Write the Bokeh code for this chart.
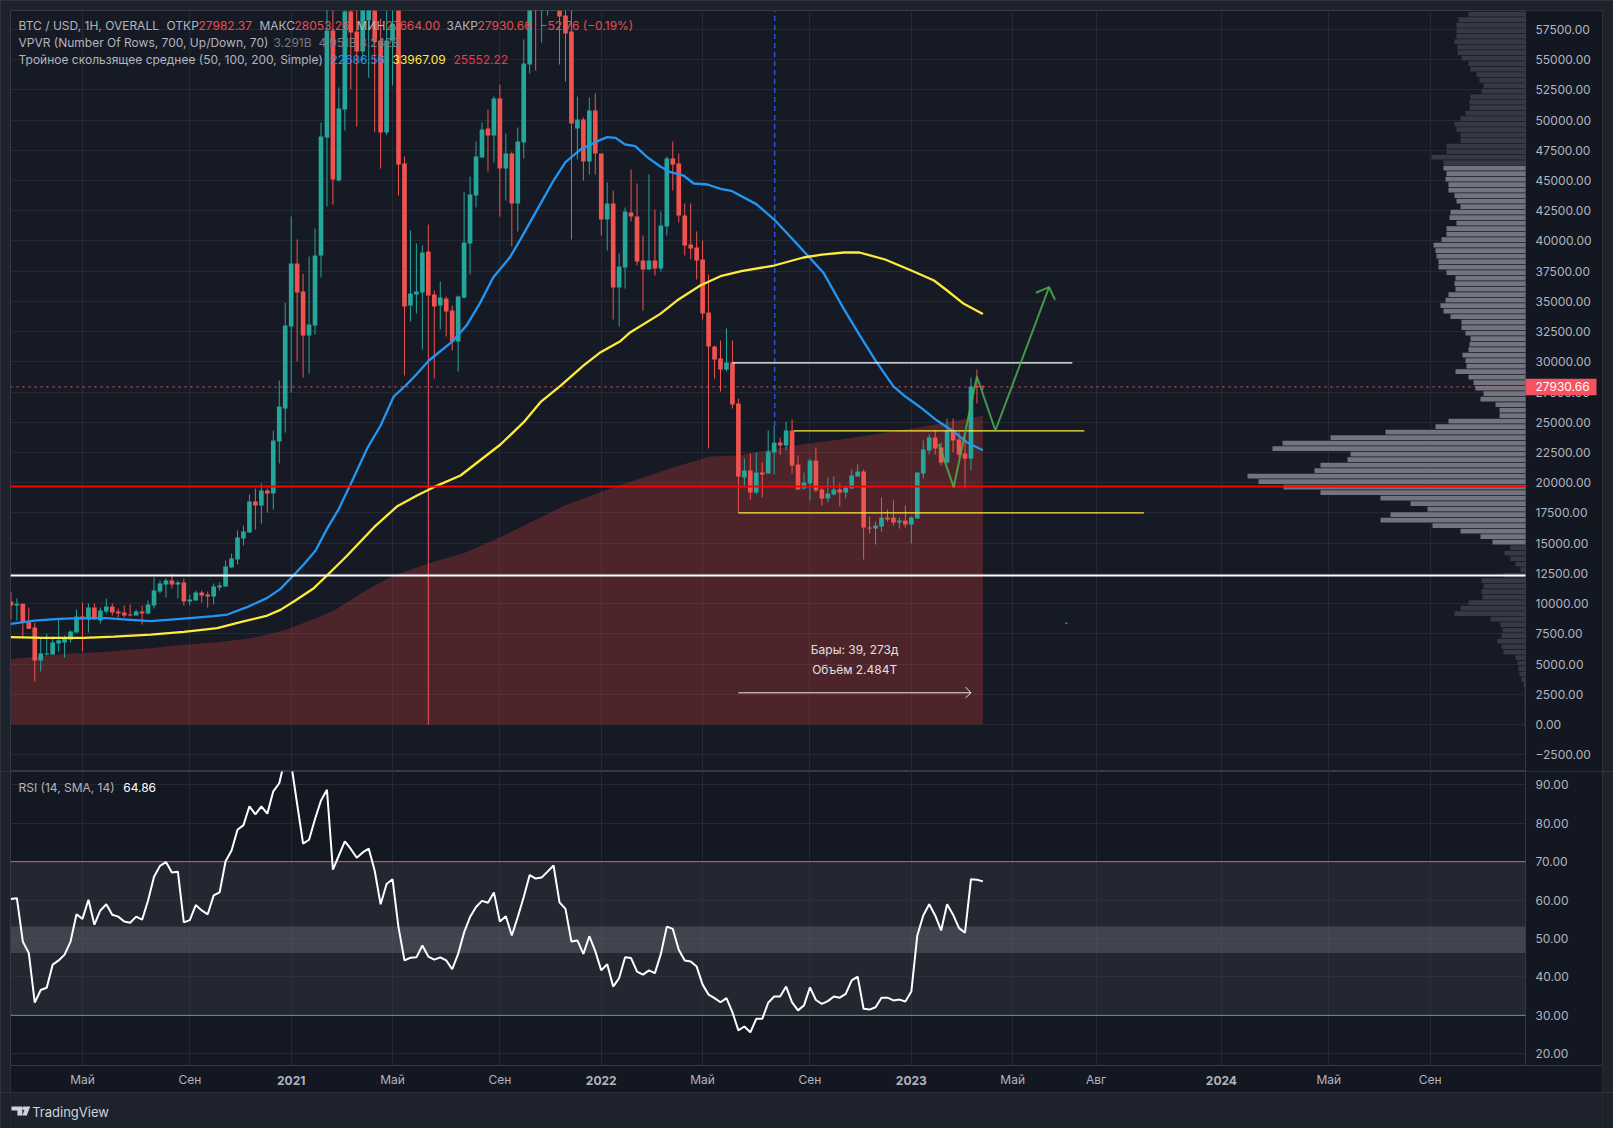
import numpy as np

from bokeh.core.properties import value
from bokeh.embed import file_html
from bokeh.layouts import column
from bokeh.models import BoxAnnotation, ColumnDataSource, FixedTicker, Label, NumeralTickFormatter, Range1d
from bokeh.plotting import figure
from bokeh.resources import INLINE

# weekly candles (bar 0 is the first visible bar)
opens = [10174, 9843, 9980, 8464, 8023, 5292, 5789, 5789, 6699, 6782,
         7002, 7609, 8933, 8684, 9678, 8601, 9346, 9760, 9346, 9264,
         9098, 9016, 9346, 9181, 9843, 11001, 11580, 11911, 11580, 11746,
         10174, 10256, 10919, 10753, 10587, 11332, 11415, 12987, 13649, 15386,
         15883, 18448, 18117, 19358, 19110, 23412, 26139, 32924, 38137, 35820,
         32179, 33006, 38798, 48562, 57415, 45004, 50878, 58987, 57332, 55677,
         58240, 60300, 56587, 48975, 56587, 59070, 46411, 34661, 35571, 35737,
         39130, 35571, 34661, 35241, 34248, 31683, 35323, 39791, 43763, 46907,
         49306, 48727, 51789, 45997, 47238, 43101, 48148, 54602, 62500, 61000,
         61800, 65000, 62000, 58656, 57332, 49306, 50051, 46576, 50796, 47238,
         41777, 43101, 36151, 37806, 42356, 42025, 38385, 37640, 38385, 37723,
         41198, 46824, 46411, 42108, 39709, 39460, 38467, 34082, 31269, 30276,
         29366, 29945, 26555, 20432, 21011, 19191, 20846, 20763, 22500, 23328,
         23080, 24321, 21508, 19522, 19936, 21839, 19439, 18694, 19025, 19439,
         19191, 19522, 20515, 20929, 16295, 16212, 16378, 17122, 17122, 16709,
         16874, 16543, 17040, 20763, 22666, 23741, 22914, 21673, 24321, 23576,
         22418, 21994, 27989, 27982.37]
closes = [9843, 9980, 8464, 7912, 5292, 5871, 5871, 6782, 6974, 7167,
          7692, 8933, 8684, 9678, 8684, 9429, 9760, 9264, 9181, 9016,
          9016, 9346, 9181, 9925, 11084, 11663, 11911, 11580, 11746, 10174,
          10339, 10919, 10670, 10587, 11415, 11498, 13070, 13731, 15469, 15966,
          18448, 18117, 19358, 19110, 23495, 26308, 33006, 38137, 35737, 32179,
          33089, 38798, 48644, 57415, 45086, 50961, 58987, 57249, 55677, 60500,
          60000, 56450, 48975, 56587, 57966, 46328, 34579, 35654, 35820, 39047,
          35488, 34579, 35323, 34165, 31683, 35406, 39874, 43846, 46990, 49224,
          48727, 51789, 45997, 47238, 43101, 48231, 54684, 61500, 61000, 61900,
          65000, 66000, 58573, 57167, 49720, 50051, 46576, 50796, 47238, 41777,
          43101, 36151, 37888, 42439, 42025, 38302, 37640, 38385, 37723, 41281,
          46824, 46328, 42108, 39626, 39378, 38385, 34000, 31269, 30193, 29366,
          29945, 26470, 20515, 21011, 19191, 20846, 20680, 22583, 23328, 23080,
          24321, 21425, 19439, 20018, 21839, 19356, 18694, 19108, 19439, 19191,
          19604, 20597, 20929, 16295, 16212, 16460, 17122, 16957, 16709, 16874,
          16543, 17122, 20846, 22749, 23741, 22831, 21673, 24321, 23493, 22335,
          21994, 27961, 27906, 27930.66]
highs = [10946, 10422, 9980, 9678, 8436, 7140, 7498, 7278, 8740, 7361,
         7774, 9511, 10091, 10008, 10008, 9678, 10422, 10008, 9594, 9843,
         9925, 9511, 9843, 10256, 12160, 11911, 12077, 12463, 11911, 12077,
         10753, 11084, 11084, 11001, 11663, 11746, 13566, 14145, 16048, 16462,
         19027, 19523, 19937, 19523, 24322, 28459, 34882, 42025, 40122, 37281,
         38716, 41032, 49803, 60500, 60000, 52699, 61800, 61700, 60500, 61800,
         64000, 63500, 58380, 59070, 59800, 60000, 46990, 40867, 39791, 39626,
         41363, 35902, 36647, 35406, 34661, 35488, 44066, 45335, 48231, 49803,
         50878, 51954, 52947, 48893, 47403, 49389, 56670, 63000, 66900, 67000,
         66000, 69000, 66000, 60000, 59500, 51954, 50216, 51871, 52202, 47238,
         44839, 44176, 38964, 42770, 45914, 44756, 40453, 45500, 42604, 42439,
         46990, 48231, 47238, 43101, 43101, 40784, 40039, 37226, 31352, 31765,
         32759, 31765, 26968, 21994, 22418, 22500, 21673, 24321, 24734, 23741,
         25065, 25231, 22252, 20846, 21994, 22914, 19604, 20432, 20515, 19936,
         19770, 21094, 21508, 21094, 17205, 16791, 18777, 17784, 18529, 17122,
         18115, 17205, 20846, 23493, 23990, 24321, 23328, 25314, 25314, 24155,
         24073, 28706, 29368, 28053.26]
lows = [8684, 8601, 7167, 7884, 3554, 4382, 5706, 5789, 6037, 5540,
        6782, 7609, 6037, 7609, 8684, 8353, 9181, 9016, 8850, 8850,
        8933, 9016, 8271, 9098, 9594, 10836, 10505, 11249, 10422, 9843,
        9843, 10256, 10091, 9678, 9925, 11084, 11415, 12987, 13235, 14807,
        15883, 16131, 16627, 17538, 17786, 21592, 24153, 27463, 30028, 28704,
        29035, 32262, 36978, 42853, 43018, 44921, 49141, 52533, 49472, 54900,
        53500, 49003, 45997, 48755, 52864, 43763, 28870, 33338, 34000, 31021,
        31000, 28621, 32675, 32096, 30938, 29200, 35241, 37226, 42770, 46907,
        45749, 46493, 42025, 43349, 39543, 40784, 46824, 53857, 54105, 56422,
        58656, 60800, 54602, 53195, 40122, 46741, 45004, 45500, 45500, 40453,
        39212, 33503, 32924, 36068, 41611, 37971, 34248, 37640, 37144, 37475,
        40453, 44176, 41529, 38798, 38467, 36813, 33503, 22829, 28621, 27546,
        29200, 26139, 17508, 19604, 18612, 19025, 18777, 20763, 20680, 22335,
        22666, 20763, 19439, 19439, 18529, 19191, 18115, 18363, 18943, 18033,
        18694, 19522, 20515, 13647, 15798, 14888, 15964, 16791, 16460, 16212,
        16295, 14971, 17040, 20349, 22335, 22335, 21425, 21590, 22500, 22087,
        19522, 21011, 26555, 27664]

# moving averages, sampled along the curves
ma50_bars = [0, 3.9, 8, 12, 16, 19.5, 23.4, 29, 34, 36.3, 39.6, 43, 45.2, 47.2, 49.1, 51.1, 53, 55, 57, 59.8,
             62, 64.2, 66.2, 68.1, 70.1, 74.2, 76.4, 78.6, 80.9, 83.7, 85.5, 88.8, 91, 93, 95.5, 98, 100, 101.4,
             103, 104.7, 106.7, 108.9, 110.6, 112.8, 114.5, 116.8, 119, 120.8, 125, 128, 131.1, 136.3, 139.7, 142.3,
             145, 148, 150, 152.5, 155.3, 158, 160.3, 163]
ma50_vals = [8326, 8601, 8740, 8795, 8795, 8684, 8547, 8767, 8960, 9098, 9705, 10477, 11222, 12243, 13235, 14393,
             16186, 17841, 19909, 22888, 24736, 27135, 28045, 29011, 30114, 31765, 33006, 34799, 37005, 38660,
             40177, 43073, 45004, 46520, 47569, 48175, 48589, 48534, 47983, 47845, 46934, 46162, 45693, 45417,
             44756, 44673, 44315, 44150, 43050, 41778, 40150, 37345, 34366, 32240, 30110, 27980, 27134, 26251,
             25148, 24265, 23355, 22686.56]
ma100_bars = [0, 5.5, 12.2, 17.3, 23.4, 29, 34.6, 38.5, 43, 45.2, 47.5, 50.8, 53, 56.4, 60.9, 64.8, 68.1, 70.9,
              75.4, 82.1, 86, 88.8, 92.2, 96, 98.9, 102.2, 103.9, 108.9, 111.7, 115.6, 119, 122.5, 128, 132.9, 136,
              139.7, 142.3, 146.6, 151, 154.8, 157, 159.8, 163]
ma100_vals = [7223, 7167, 7167, 7278, 7443, 7664, 7967, 8464, 9016, 9484, 10201, 11277, 12325, 13980, 16324, 18062,
              18944, 19634, 20599, 23164, 25009, 26663, 28042, 29697, 30800, 31710, 32455, 33972, 35075, 36316,
              37088, 37500, 37972, 38635, 38880, 39049, 39049, 38470, 37559, 36732, 35904, 34801, 33967.09]
ma200_bars = [0, 9.4, 15, 23.4, 29, 34.6, 40.2, 45.8, 51.4, 54.2, 59.7, 64.2, 70.1, 75.9, 82.1, 93.2, 101.8, 110.5,
              117.3, 122, 131.3, 140, 152.5, 163]
ma200_vals = [5402, 5844, 5982, 6313, 6589, 6809, 7140, 7774, 8822, 9429, 11139, 12325, 13345, 14173, 15496, 18200,
              19731, 21179, 22172, 22250, 23080, 23631, 24596, 25552.22]

rsi_vals = [60.3, 60.5, 49.2, 46.2, 33.3, 36.6, 37.2, 43.2, 44.3, 45.8, 49.2, 56.3, 55.1, 60.1, 53.6, 57.3, 58.9,
            56.2, 55.7, 54.4, 54.1, 55.7, 54.9, 59.9, 66.1, 68.9, 69.9, 67.2, 67.4, 54.2, 54.8, 58.7, 57.3, 56.3,
            61.2, 62.0, 70.1, 72.9, 78.3, 79.5, 84.4, 82.3, 84.4, 82.5, 88.3, 90.4, 97.0, 95.5, 85.0, 74.7, 75.7,
            81.1, 85.9, 88.7, 67.9, 71.6, 75.3, 73.3, 71.0, 72.4, 73.4, 67.7, 58.9, 64.2, 65.4, 52.9, 44.3, 45.0,
            45.1, 48.2, 45.3, 44.5, 45.1, 44.3, 42.0, 46.0, 51.6, 55.6, 58.2, 59.8, 59.3, 62.0, 54.4, 55.8, 50.8,
            55.6, 60.8, 66.5, 65.6, 65.9, 67.4, 69.0, 59.4, 57.7, 49.2, 49.5, 46.0, 50.6, 46.7, 41.7, 43.3, 37.5,
            39.7, 45.1, 44.9, 41.4, 40.6, 41.7, 41.0, 46.0, 53.1, 52.5, 47.1, 44.3, 44.0, 42.7, 38.0, 35.4, 34.5,
            33.4, 34.5, 30.8, 26.1, 27.1, 25.6, 29.1, 29.1, 33.3, 34.9, 34.9, 37.5, 33.4, 31.3, 32.6, 37.3, 34.0,
            33.0, 33.7, 34.9, 34.6, 35.6, 39.1, 40.1, 31.7, 31.5, 32.1, 34.6, 34.6, 33.9, 34.1, 33.6, 36.2, 50.8,
            56.0, 58.9, 56.0, 52.1, 58.9, 56.2, 52.7, 51.5, 65.4, 65.3, 64.86]

# visible range profile: one relative volume per row, from the top of the pane down
vp_top = 58765
vp_step = 455
vp_volumes = [57, 67, 69, 69, 69, 71, 68, 68, 64, 57, 55, 49, 46, 42, 44, 55, 56, 56, 60, 65, 71, 69, 65, 65, 79, 79,
              94, 82, 82, 79, 80, 77, 77, 71, 69, 65, 75, 76, 69, 79, 79, 84, 92, 90, 89, 87, 87, 79, 70, 71, 70, 77,
              80, 85, 82, 75, 64, 64, 60, 55, 56, 57, 63, 60, 59, 70, 57, 52, 50, 42, 45, 30, 26, 26, 77, 90, 140,
              195, 243, 253, 175, 178, 205, 211, 278, 267, 242, 205, 145, 115, 98, 135, 145, 93, 65, 45, 33, 15, 21,
              15, 10, 5, 22, 44, 42, 44, 43, 57, 65, 71, 35, 25, 23, 24, 28, 24, 22, 10, 8, 7, 6, 4, 2, 1, 1, 1, 1, 1,
              1, 1]
vp_value_rows = (28, 96)  # first and last row inside the 70% value area

# drawings
level_white_thick = 12325
level_red_thick = 19689
level_white_thin = (121, 178, 29923)
level_yellow_top = (131.3, 180, 24295)
level_yellow_bottom = (122, 190, 17510)
path_bars = [155.6, 158.1, 162, 165.1, 174.1]
path_prices = [23222, 19632, 28790, 24323, 36178]
arrow_bars = [171.9, 174.1, 175.1]
arrow_prices = [35715, 36178, 35136]
measure_bars = [122, 161]
measure_price = 2622
measure_head_bars = [160.1, 161, 160.1]
measure_head_prices = [3089, 2622, 2208]
last_close = 27930.66

# axes
price_ticks = [-2500 + 2500 * k for k in range(25)]
month_ticks = {12: 'Май', 30: 'Сен', 64: 'Май', 82: 'Сен', 116: 'Май', 134: 'Сен', 168: 'Май', 182: 'Авг', 221: 'Май',
               238: 'Сен'}
year_ticks = {47: '2021', 99: '2022', 151: '2023', 203: '2024'}
rsi_ticks = [20, 30, 40, 50, 60, 70, 80, 90]

AXIS_BG = '#131722'
FRAME = '#1e222d'
GRID = '#252934'
EDGE = '#363a45'
TEXT = '#b2b5be'
UP = '#26a69a'
DOWN = '#ef5350'
FONT = 'Inter'
all_ticks = sorted(list(month_ticks) + list(year_ticks))
# the frames run on under the axis strips, so tags and bold labels can sit there unclipped
PLOT_END = 254.0
bar_range = Range1d(-0.07, 266.91)
BARS_LEFT = -0.07


def style_pane(p, background):
    p.background_fill_color = background
    p.border_fill_color = FRAME
    p.outline_line_color = EDGE
    p.xgrid.ticker = FixedTicker(ticks=all_ticks)
    p.xgrid.grid_line_color = GRID
    p.ygrid.grid_line_color = GRID
    ax = p.yaxis[0]
    ax.major_tick_line_color = None
    ax.minor_tick_line_color = None
    ax.major_tick_in = 0
    ax.major_tick_out = 0
    ax.major_label_standoff = -67
    ax.axis_line_color = None
    ax.major_label_text_color = TEXT
    ax.major_label_text_font = FONT
    ax.major_label_text_font_size = '12px'
    ax.formatter = NumeralTickFormatter(format='0.00')
    low, high = p.y_range.start, p.y_range.end
    p.quad(left=PLOT_END, right=bar_range.end, bottom=low, top=high, fill_color=AXIS_BG, line_color=None)
    p.line([PLOT_END, PLOT_END], [low, high], line_color=EDGE, line_width=1)


def screen_text(p, x, y, text, color=TEXT, size='12px', style='normal', align='left', x_units='screen'):
    p.add_layout(Label(x=x, y=y, x_units=x_units, y_units='screen', text=text, text_color=color, text_font=FONT,
                       text_font_size=size, text_font_style=style, text_baseline='middle', text_align=align))


p1 = figure(width=1613, height=771, x_range=bar_range, y_range=Range1d(-3888, 59069), y_axis_location='right',
            toolbar_location=None, output_backend='svg', min_border_left=10, min_border_right=11, min_border_top=10,
            min_border_bottom=0)
p1.xaxis.visible = False
style_pane(p1, '#161a25')
p1.ygrid.ticker = FixedTicker(ticks=price_ticks)
p1.yaxis[0].ticker = FixedTicker(ticks=price_ticks)
p1.yaxis[0].major_label_overrides = {-2500: '−2500.00'}

# filled area below the slow average
p1.varea(x=ma200_bars, y1=0, y2=ma200_vals, fill_color='#f2453d', fill_alpha=0.25)

# volume profile on its own scale, growing from the price axis
p1.extra_x_ranges['vp'] = Range1d(1515, -77)
vp_prices = [vp_top - vp_step * k for k in range(len(vp_volumes))]
vp_colors = ['#72747f' if vp_value_rows[0] <= k <= vp_value_rows[1] else '#373a45' for k in range(len(vp_volumes))]
p1.hbar(y=vp_prices, height=vp_step * 0.85, left=0, right=vp_volumes, x_range_name='vp', fill_color=vp_colors,
        line_color=None)

# candles
bars = np.arange(len(opens))
candles = ColumnDataSource(dict(
    bar=bars, open=opens, close=closes, high=highs, low=lows,
    color=[UP if c >= o else DOWN for o, c in zip(opens, closes)]))
p1.segment('bar', 'high', 'bar', 'low', color='color', line_width=1, source=candles)
p1.vbar(x='bar', top='open', bottom='close', width=0.78, fill_color='color', line_color=None, source=candles)

# measured range and long vertical marker
p1.line([70, 70], [0, 31000], line_color='#f7525f', line_width=1)
p1.line([128.1, 128.1], [24700, 59069], line_color='#2962ff', line_width=1.2, line_dash=[5, 4])
p1.line(measure_bars, [measure_price, measure_price], line_color='#e8e8e8', line_width=1)
p1.line(measure_head_bars, measure_head_prices, line_color='#e8e8e8', line_width=1)
p1.scatter([177], [8380], size=2, color=UP, line_color=None)

# moving averages
p1.line(ma50_bars, ma50_vals, line_color='#2196f3', line_width=2.3)
p1.line(ma100_bars, ma100_vals, line_color='#ffeb3b', line_width=2.3)

# horizontal levels
p1.line([BARS_LEFT, PLOT_END], [last_close, last_close], line_color='#f7525f', line_width=1, line_dash='dotted')
p1.line([BARS_LEFT, PLOT_END], [level_white_thick, level_white_thick], line_color='#ffffff', line_width=2)
p1.line([BARS_LEFT, PLOT_END], [level_red_thick, level_red_thick], line_color='#ff0000', line_width=2)
for start, end, level, color in [(*level_white_thin, '#ffffff'), (*level_yellow_top, '#ffeb3b'),
                                 (*level_yellow_bottom, '#ffeb3b')]:
    p1.line([start, end], [level, level], line_color=color, line_width=1.3)

# hand drawn forecast
p1.line(path_bars, path_prices, line_color='#4caf50', line_width=2, line_alpha=0.85)
p1.line(arrow_bars, arrow_prices, line_color='#4caf50', line_width=2, line_alpha=0.85)

p1.add_layout(Label(x=141.5, y=6200, text='Бары: 39, 273д', text_color='#e0e0e0', text_font=FONT,
                    text_font_size='12px', text_align='center', text_baseline='middle'))
p1.add_layout(Label(x=141.5, y=4550, text='Объём 2.484T', text_color='#e0e0e0', text_font=FONT,
                    text_font_size='12px', text_align='center', text_baseline='middle'))

# status lines, in pixels from the frame's corner
LEGEND_RED = '#e84e4e'
H1 = 761
for x, y, text, color in [
    (8, 24.9, 'BTC / USD, 1H, OVERALL', TEXT), (156, 24.9, 'ОТКР', TEXT), (188, 24.9, '27982.37', LEGEND_RED),
    (249, 24.9, 'МАКС', TEXT), (284, 24.9, '28053.26', LEGEND_RED),
    (346, 24.9, 'МИН', TEXT), (375, 24.9, '27664.00', LEGEND_RED),
    (436, 24.9, 'ЗАКР', TEXT), (467, 24.9, '27930.66', LEGEND_RED),
    (529, 24.9, '−52.76 (−0.19%)', LEGEND_RED),
    (8, 41.5, 'VPVR (Number Of Rows, 700, Up/Down, 70)', TEXT), (263, 41.5, '3.291B', '#787b86'),
    (308, 41.5, '4.951B', '#787b86'), (349, 41.5, '8.242B', '#787b86'),
    (8, 58.9, 'Тройное скользящее среднее (50, 100, 200, Simple)', TEXT), (320, 58.9, '22686.56', '#2196f3'),
    (382, 58.9, '33967.09', '#ffeb3b'), (443, 58.9, '25552.22', '#f23645'),
]:
    screen_text(p1, x, H1 - (y - 10), text, color)

# price tag in the axis strip
p1.add_layout(BoxAnnotation(left=1515, right=1586, left_units='screen', right_units='screen', top=28600, bottom=27243,
                            fill_color='#f7525f', fill_alpha=1, line_color=None))
p1.add_layout(Label(x=1525, y=last_close, x_units='screen', text='27930.66', text_color='#ffffff', text_font=FONT,
                    text_font_size='12px', text_baseline='middle'))

p2 = figure(width=1613, height=321, x_range=bar_range, y_range=Range1d(9.93, 93.46), y_axis_location='right',
            toolbar_location=None, output_backend='svg', min_border_left=10, min_border_right=11, min_border_top=0,
            min_border_bottom=0)
style_pane(p2, '#141823')
p2.ygrid.ticker = FixedTicker(ticks=rsi_ticks)
p2.yaxis[0].ticker = FixedTicker(ticks=rsi_ticks)

# RSI bands and line
TIME_FLOOR = 16.96
p2.add_layout(BoxAnnotation(bottom=30, top=70, right=PLOT_END, fill_color='#363a45', fill_alpha=0.47, line_color=None,
                            level='underlay'))
p2.add_layout(BoxAnnotation(bottom=46.2, top=53.1, right=PLOT_END, fill_color='#787b86', fill_alpha=0.35,
                            line_color=None, level='underlay'))
p2.line([BARS_LEFT, PLOT_END], [70, 70], line_color='#e0605a', line_width=1)
p2.line([BARS_LEFT, PLOT_END], [30, 30], line_color='#4caf50', line_width=1)
p2.line(bars, rsi_vals, line_color='#ffffff', line_width=2)

# time axis strip
p2.quad(left=BARS_LEFT, right=bar_range.end, bottom=9.93, top=TIME_FLOOR, fill_color=AXIS_BG, line_color=None)
p2.line([BARS_LEFT, bar_range.end], [TIME_FLOOR, TIME_FLOOR], line_color=EDGE, line_width=1)

xax = p2.xaxis[0]
xax.ticker = FixedTicker(ticks=all_ticks)
xax.major_label_overrides = {**month_ticks, **{k: '' for k in year_ticks}}
xax.major_tick_line_color = None
xax.major_tick_in = 0
xax.major_tick_out = 0
xax.minor_tick_line_color = None
xax.axis_line_color = None
xax.major_label_standoff = -21
xax.major_label_text_color = TEXT
xax.major_label_text_font = FONT
xax.major_label_text_font_size = '12px'

H2 = 321
for bar, label in year_ticks.items():
    screen_text(p2, bar, H2 - (1079.7 - 771), label, TEXT, style='bold', align='center', x_units='data')
screen_text(p2, 8, H2 - (787.0 - 771), 'RSI (14, SMA, 14)', TEXT)
screen_text(p2, 112.7, H2 - (787.0 - 771), '64.86', '#ffffff')

# footer with the maker's mark
p3 = figure(width=1613, height=36, x_range=Range1d(9, 1622), y_range=Range1d(36, 0), toolbar_location=None,
            output_backend='svg', min_border_left=0, min_border_right=0, min_border_top=0, min_border_bottom=0,
            x_axis_type=None, y_axis_type=None)
p3.background_fill_color = FRAME
p3.border_fill_color = FRAME
p3.outline_line_color = None
p3.grid.visible = False
p3.patches(xs=[[10, 21, 21, 16, 16, 10], [24.5, 29, 25.5, 21]], ys=[[14, 14, 23, 23, 18, 18], [14, 14, 23, 23]],
           fill_color='#d1d4dc', line_color=None)
p3.scatter([23], [15.8], size=4, color='#d1d4dc', line_color=None)
p3.text([31], [19.7], text=['TradingView'], text_color='#d1d4dc', text_font=value(FONT), text_font_size='13px',
        text_font_style='normal', text_baseline='middle')

root = column(p1, p2, p3, spacing=0, styles={'position': 'absolute', 'left': '0px', 'top': '0px',
                                             'background-color': EDGE})
open('out.html', 'w').write(file_html(root, INLINE))
